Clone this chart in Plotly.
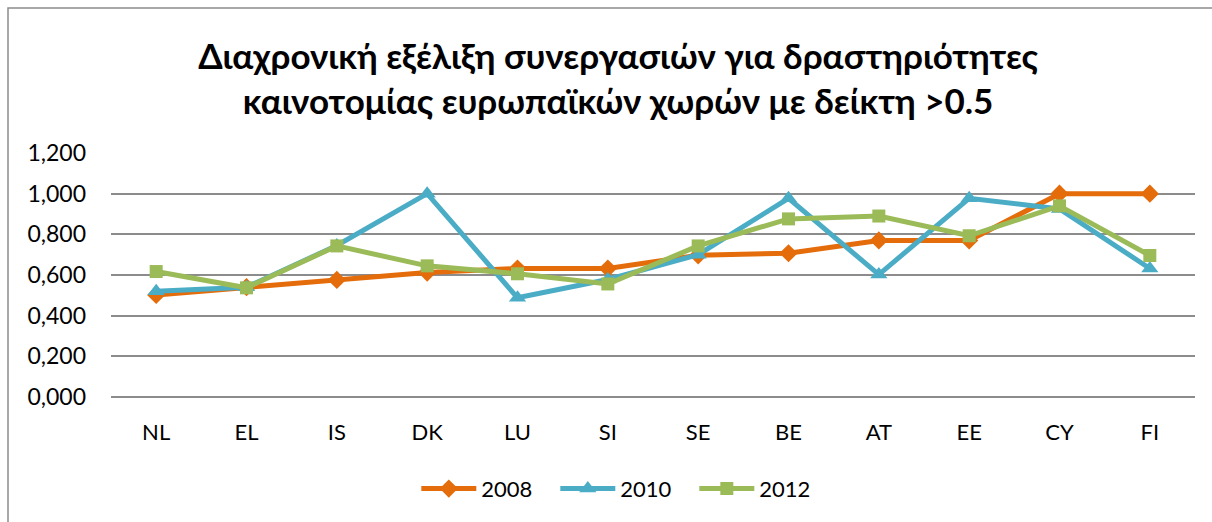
import plotly.graph_objects as go

countries = ["NL", "EL", "IS", "DK", "LU", "SI", "SE", "BE", "AT", "EE", "CY", "FI"]
v2008 = [0.502, 0.540, 0.576, 0.612, 0.632, 0.632, 0.697, 0.707, 0.770, 0.770, 1.000, 1.000]
v2010 = [0.520, 0.540, 0.745, 1.000, 0.488, 0.578, 0.700, 0.977, 0.602, 0.977, 0.925, 0.632]
v2012 = [0.617, 0.537, 0.743, 0.645, 0.606, 0.556, 0.743, 0.876, 0.890, 0.793, 0.940, 0.696]

tick_vals = [0, 0.2, 0.4, 0.6, 0.8, 1.0, 1.2]
tick_text = ["0,000", "0,200", "0,400", "0,600", "0,800", "1,000", "1,200"]

title = ("Διαχρονική εξέλιξη συνεργασιών για δραστηριότητες<br>"
         "καινοτομίας ευρωπαϊκών χωρών με δείκτη >0.5")

series = [
    ("2008", v2008, "#E46C0A", "diamond", 14),
    ("2010", v2010, "#4BACC6", "triangle-up", 15),
    ("2012", v2012, "#9BBB59", "square", 13),
]

fig = go.Figure()
for name, vals, col, sym, sz in series:
    fig.add_trace(go.Scatter(
        x=countries, y=vals, name=name, mode="lines+markers",
        line=dict(color=col, width=5),
        marker=dict(symbol=sym, size=sz, color=col),
    ))

fig.update_layout(
    width=1212, height=522,
    paper_bgcolor="white", plot_bgcolor="white",
    margin=dict(l=111, r=17, t=153, b=125),
    font=dict(family="Lato, Open Sans, sans-serif", color="black"),
    title=dict(text="<b>" + title + "</b>", x=0.51, xanchor="center",
               y=0.868, yanchor="top", font=dict(size=35)),
    xaxis=dict(showgrid=False, showline=False, ticks="",
               tickfont=dict(size=22), range=[-0.5, 11.5],
               ticklabelstandoff=20),
    yaxis=dict(range=[0, 1.2], tickvals=tick_vals, ticktext=tick_text,
               showgrid=True, gridcolor="#8C8C8C", gridwidth=1.5,
               zeroline=True, zerolinecolor="#8C8C8C", zerolinewidth=1.5,
               showline=False, tickfont=dict(size=23), ticklen=0,
               ticklabelstandoff=24),
    legend=dict(orientation="h", x=0.474, xanchor="center", y=-0.29,
                yanchor="top", font=dict(size=22), itemwidth=55,
                entrywidth=69),
    shapes=[dict(type="rect", xref="paper", yref="paper",
                 x0=(8 - 111) / 1084, x1=(1214 - 111) / 1084,
                 y0=(397 - 524) / 244, y1=(397 - 8) / 244,
                 line=dict(color="#8C8C8C", width=1.5))],
)

fig.write_html("out.html", config={"displayModeBar": False},
               post_script="document.body.style.margin='0';")
